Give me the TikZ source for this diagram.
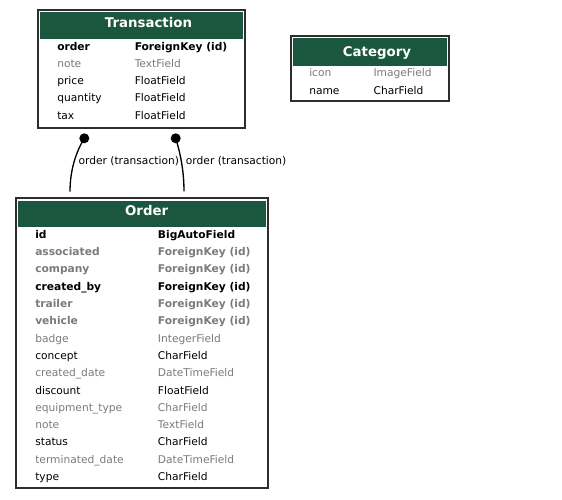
\documentclass[tikz,border=0pt]{standalone}
\usepackage{fontspec}
\setmainfont{DejaVu Sans}
\usetikzlibrary{fit}
\definecolor{hdrgreen}{RGB}{27,86,63}
\definecolor{fgray}{RGB}{123,123,123}
\definecolor{bord}{RGB}{45,45,45}
\begin{document}
\begin{tikzpicture}[x=0.75pt,y=-0.75pt,
 box/.style={draw=bord,line width=1.5pt,inner sep=0pt,fill=white},
 hdr/.style={fill=hdrgreen,inner sep=0pt},
 htext/.style={anchor=base,text=white,font=\fontsize{10}{12}\selectfont\bfseries,inner sep=0pt},
 fld/.style={anchor=base west,inner sep=0pt,font=\fontsize{8}{9.6}\selectfont},
 fldg/.style={fld,text=fgray},
 fldb/.style={fld,font=\fontsize{8}{9.6}\selectfont\bfseries},
 fldbg/.style={fldb,text=fgray},
 edgeline/.style={line width=1pt},
 dotn/.style={circle,fill=black,inner sep=0pt,minimum size=7.5pt},
 elab/.style={anchor=base west,inner sep=0pt,font=\fontsize{8}{9.6}\selectfont}]
\fill[white] (0,0) rectangle (562,500);
\useasboundingbox (0,0) rectangle (562,500);

% Transaction
\node[box,fit={(37.5,10)(245,127.7)}] (trans) {};
\node[hdr,fit={(40,12)(243,38.5)}] (transh) {};
\node[htext] (transt) at (148.5,27.7) {Transaction};
\node[fldb] (t1a) at (57,50) {order};
\node[fldb] (t1b) at (134.5,50) {ForeignKey (id)};
\node[fldg] (t2a) at (57,67.25) {note};
\node[fldg] (t2b) at (134.5,67.25) {TextField};
\node[fld] (t3a) at (57,84.5) {price};
\node[fld] (t3b) at (134.5,84.5) {FloatField};
\node[fld] (t4a) at (57,101.75) {quantity};
\node[fld] (t4b) at (134.5,101.75) {FloatField};
\node[fld] (t5a) at (57,119) {tax};
\node[fld] (t5b) at (134.5,119) {FloatField};

% Category
\node[box,fit={(290.7,35.7)(449,101)}] (cat) {};
\node[hdr,fit={(293,38)(446.7,66)}] (cath) {};
\node[htext] (catt) at (377,56) {Category};
\node[fldg] (c1a) at (309,76.7) {icon};
\node[fldg] (c1b) at (373.3,76.7) {ImageField};
\node[fld] (c2a) at (309,94) {name};
\node[fld] (c2b) at (373.3,94) {CharField};

% Order
\node[box,fit={(16,198.3)(268.3,488.3)}] (ord) {};
\node[hdr,fit={(18.3,200.6)(266,226.8)}] (ordh) {};
\node[htext] (ordt) at (146.7,215.7) {Order};
\node[fldb]  (o1a)  at (35,238.3) {id};
\node[fldb]  (o1b)  at (157.7,238.3) {BigAutoField};
\node[fldbg] (o2a)  at (35,255.6) {associated};
\node[fldbg] (o2b)  at (157.7,255.6) {ForeignKey (id)};
\node[fldbg] (o3a)  at (35,272.9) {company};
\node[fldbg] (o3b)  at (157.7,272.9) {ForeignKey (id)};
\node[fldb]  (o4a)  at (35,290.2) {created\_by};
\node[fldb]  (o4b)  at (157.7,290.2) {ForeignKey (id)};
\node[fldbg] (o5a)  at (35,307.5) {trailer};
\node[fldbg] (o5b)  at (157.7,307.5) {ForeignKey (id)};
\node[fldbg] (o6a)  at (35,324.8) {vehicle};
\node[fldbg] (o6b)  at (157.7,324.8) {ForeignKey (id)};
\node[fldg]  (o7a)  at (35,342.1) {badge};
\node[fldg]  (o7b)  at (157.7,342.1) {IntegerField};
\node[fld]   (o8a)  at (35,359.4) {concept};
\node[fld]   (o8b)  at (157.7,359.4) {CharField};
\node[fldg]  (o9a)  at (35,376.7) {created\_date};
\node[fldg]  (o9b)  at (157.7,376.7) {DateTimeField};
\node[fld]   (o10a) at (35,394) {discount};
\node[fld]   (o10b) at (157.7,394) {FloatField};
\node[fldg]  (o11a) at (35,411.3) {equipment\_type};
\node[fldg]  (o11b) at (157.7,411.3) {CharField};
\node[fldg]  (o12a) at (35,428.6) {note};
\node[fldg]  (o12b) at (157.7,428.6) {TextField};
\node[fld]   (o13a) at (35,445.9) {status};
\node[fld]   (o13b) at (157.7,445.9) {CharField};
\node[fldg]  (o14a) at (35,463.2) {terminated\_date};
\node[fldg]  (o14b) at (157.7,463.2) {DateTimeField};
\node[fld]   (o15a) at (35,480.5) {type};
\node[fld]   (o15b) at (157.7,480.5) {CharField};

% Edges
\node[dotn] (d1) at (84.3,138.3) {};
\node[dotn] (d2) at (175.7,138.3) {};
\coordinate (e1) at (70,191.7);
\coordinate (e2) at (184,191.3);
\draw[edgeline] (d1.center) .. controls (76,152) and (70,170) .. (e1);
\draw[edgeline] (d2.center) .. controls (180,152) and (184,170) .. (e2);
\node[elab] (l1) at (78.3,164.3) {order (transaction)};
\node[elab] (l2) at (185.7,164.3) {order (transaction)};
\end{tikzpicture}
\end{document}
